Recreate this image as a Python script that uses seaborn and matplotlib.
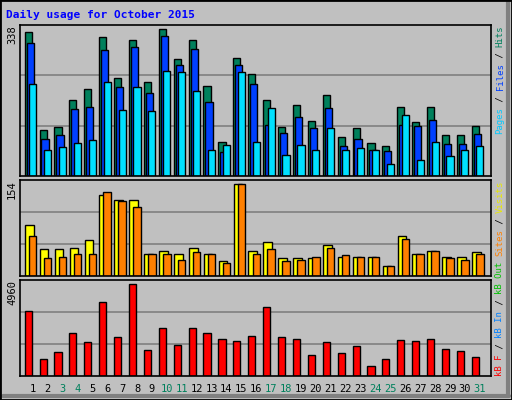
import matplotlib
matplotlib.use("Agg")
import matplotlib.pyplot as plt
from matplotlib.patches import Rectangle
import seaborn as sns
import numpy as np

sns.set_style("white")
plt.rcParams["font.family"] = ["DejaVu Sans Mono"]

days = np.arange(1, 32)
weekend = [3, 4, 10, 11, 17, 18, 24, 25, 31]

hits = [333, 106, 113, 174, 201, 321, 226, 314, 217, 338, 269, 313, 207, 78, 273, 234,
        174, 112, 163, 126, 186, 89, 110, 77, 68, 158, 124, 158, 94, 94, 115]
files = [306, 85, 94, 154, 158, 290, 205, 297, 191, 322, 255, 292, 170, 55, 255, 212,
         117, 98, 135, 110, 156, 68, 85, 61, 57, 117, 115, 128, 73, 73, 96]
pages = [213, 59, 66, 75, 84, 216, 151, 204, 149, 243, 239, 195, 61, 71, 239, 78,
         156, 48, 71, 59, 110, 61, 64, 59, 27, 140, 38, 78, 45, 61, 68]
visits = [85, 45, 45, 47, 60, 135, 127, 127, 37, 42, 37, 48, 38, 25, 154, 43,
          58, 30, 30, 30, 53, 33, 33, 33, 18, 68, 38, 43, 32, 33, 40]
sites = [68, 30, 33, 38, 38, 140, 125, 115, 37, 38, 28, 40, 37, 23, 154, 38,
         45, 25, 28, 33, 48, 35, 33, 33, 17, 63, 37, 43, 30, 28, 37]
kbytes = [3481, 884, 1263, 2291, 1804, 3968, 2074, 4960, 1371, 2561, 1641, 2561, 2291, 1966, 1858, 2128,
          3697, 2074, 1966, 1100, 1804, 1208, 1587, 505, 884, 1912, 1858, 1966, 1425, 1317, 992]

BG = "#C0C0C0"
fig = plt.figure(figsize=(5.12, 4.0), dpi=100, facecolor=BG)

W = 471 / 512
L = 20 / 512
ax1 = fig.add_axes([L, 1 - 176 / 400, W, 151 / 400])
ax2 = fig.add_axes([L, 1 - 276.3 / 400, W, 96.3 / 400])
ax3 = fig.add_axes([L, 1 - 375.7 / 400, W, 95.7 / 400])

def bars(ax, vals, shift, width, color):
    sns.barplot(x=days + shift, y=vals, native_scale=True, width=width, color=color,
                edgecolor="black", linewidth=1.0, saturation=1, ax=ax)

bars(ax1, hits, -0.3, 0.48, "#00805C")
bars(ax1, files, -0.17, 0.48, "#0040FF")
bars(ax1, pages, 0.0, 0.48, "#00E0FF")
bars(ax2, visits, -0.23, 0.58, "#FFFF00")
bars(ax2, sites, 0.0, 0.5, "#FF8000")
bars(ax3, kbytes, -0.3, 0.48, "#FF0000")

tops = [(ax1, max(hits), 348), (ax2, max(visits), 160.7), (ax3, max(kbytes), 5176)]
for ax, mx, top in tops:
    ax.set_facecolor(BG)
    ax.set_xlim(0.15, 31.75)
    ax.set_ylim(0, top)
    for g in (top / 3, 2 * top / 3):
        ax.axhline(g, color="#808080", lw=1.2, zorder=0)
    ax.set_xticks([])
    ax.set_yticks([])
    ax.set_xlabel("")
    ax.set_ylabel("")
    for s in ax.spines.values():
        s.set_color("black")
        s.set_linewidth(1.2)
    ax.text(-0.006, 1.0, str(mx), transform=ax.transAxes, rotation=90,
            ha="right", va="top", fontsize=7.5, color="black")

for d in days:
    ax3.annotate(str(d), xy=(d, 0), xycoords=("data", "axes fraction"),
                 xytext=(0, -8), textcoords="offset pixels", ha="center", va="top",
                 fontsize=7.5, color="#00805C" if d in weekend else "black")

FS = 6.5
adv = FS * 0.602 * 100 / 72

def side_label(ax, parts, anchor):
    # parts listed bottom -> top, text rotated to read upwards
    total = sum(len(p) for p, _ in parts)
    if anchor == "top":
        y0, off = 1.0, -total * adv
    else:
        y0, off = 0.0, 0
    for txt, col in parts:
        ax.annotate(txt, xy=(1.0, y0), xycoords="axes fraction",
                    xytext=(9, off), textcoords="offset pixels", rotation=90,
                    ha="center", va="bottom", fontsize=FS, color=col,
                    annotation_clip=False)
        off += len(txt) * adv

side_label(ax1, [("Pages", "#00C8FF"), (" / ", "black"), ("Files", "#0040FF"),
                 (" / ", "black"), ("Hits", "#00805C")], "top")
side_label(ax2, [("Sites", "#FF8000"), (" / ", "black"), ("Visits", "#E8E800")], "top")
side_label(ax3, [("kB F", "#FF0000"), (" / ", "black"), ("kB In", "#0080FF"),
                 (" / ", "black"), ("kB Out", "#00C000")], "bottom")

fig.text(6 / 512, 1 - 15 / 400, "Daily usage for October 2015", color="#0000FF",
         fontsize=8, fontweight="bold", va="center", ha="left")

fig.add_artist(plt.Line2D([0.005, 0.995], [0.01, 0.01], color="#808080", lw=3))
fig.add_artist(plt.Line2D([0.992, 0.992], [0.01, 0.995], color="#808080", lw=3))
fig.patches.append(Rectangle((0, 0), 1, 1, transform=fig.transFigure, fill=False,
                             edgecolor="black", lw=2, zorder=10))

fig.savefig("out.png", dpi=100, facecolor=BG)
